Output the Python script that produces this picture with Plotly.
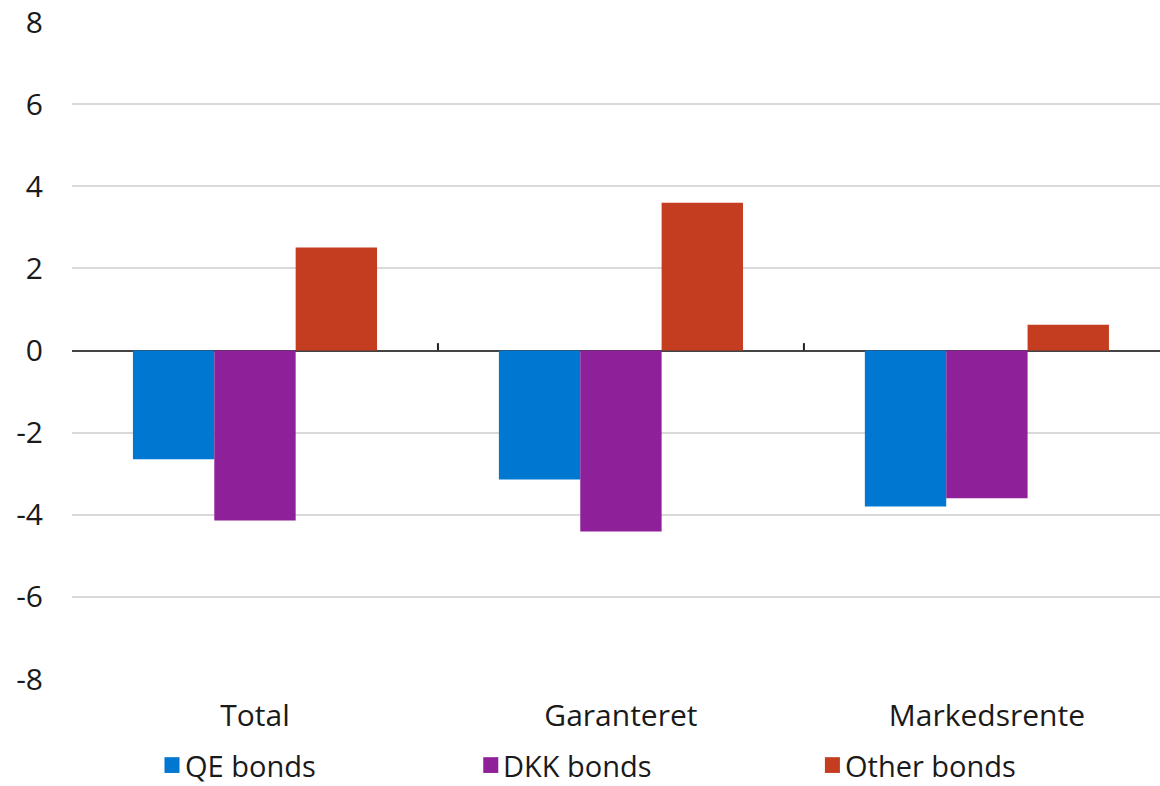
import plotly.graph_objects as go

categories = ["Total", "Garanteret", "Markedsrente"]
qe_bonds = [-2.65, -3.14, -3.80]
dkk_bonds = [-4.14, -4.41, -3.60]
other_bonds = [2.51, 3.60, 0.63]
y_ticks = [-8, -6, -4, -2, 0, 2, 4, 6, 8]

series = [
    ("QE bonds", qe_bonds, "#0078D2"),
    ("DKK bonds", dkk_bonds, "#8E2099"),
    ("Other bonds", other_bonds, "#C43D21"),
]

FONT = "Open Sans, sans-serif"
FS = 30

fig = go.Figure()
for name, vals, color in series:
    fig.add_trace(go.Bar(x=categories, y=vals, name=name, marker_color=color,
                         marker_line_width=0, showlegend=False))

# small tick marks on the zero line between categories
for xb in [0.5, 1.5]:
    fig.add_shape(type="line", xref="x", yref="y", x0=xb, x1=xb, y0=0, y1=0.18,
                  line=dict(color="#222222", width=2))

# legend row below the axis: colour square followed by the series name
legend_x = [0.085, 0.378, 0.692]
legend_y = -0.131
for (name, _, color), lx in zip(series, legend_x):
    fig.add_shape(type="rect", xref="paper", yref="paper",
                  x0=lx, x1=lx + 0.0138, y0=legend_y - 0.012, y1=legend_y + 0.012,
                  fillcolor=color, line_width=0)
    fig.add_annotation(xref="paper", yref="paper", x=lx + 0.0175, y=legend_y,
                       text=name, showarrow=False, xanchor="left", yanchor="middle",
                       borderpad=0,
                       font=dict(family=FONT, size=29, color="#1a1a1a"))

fig.update_layout(
    width=1160, height=786,
    margin=dict(l=72, r=0, t=22, b=107),
    paper_bgcolor="white", plot_bgcolor="white",
    barmode="group", bargap=0.333, bargroupgap=0,
    font=dict(family=FONT, size=FS, color="#1a1a1a"),
    showlegend=False,
    xaxis=dict(range=[-0.5, 2.473], showgrid=False, showline=False, ticks="",
               ticklabelstandoff=16, zeroline=False),
    yaxis=dict(range=[-8, 8], tickvals=y_ticks, ticktext=[str(v) for v in y_ticks],
               showgrid=True, gridcolor="#d9d9d9",
               gridwidth=1.5, zeroline=True, zerolinecolor="#444444", zerolinewidth=2,
               showline=False, ticks="", ticklabelstandoff=28),
)

fig.write_html("out.html")
